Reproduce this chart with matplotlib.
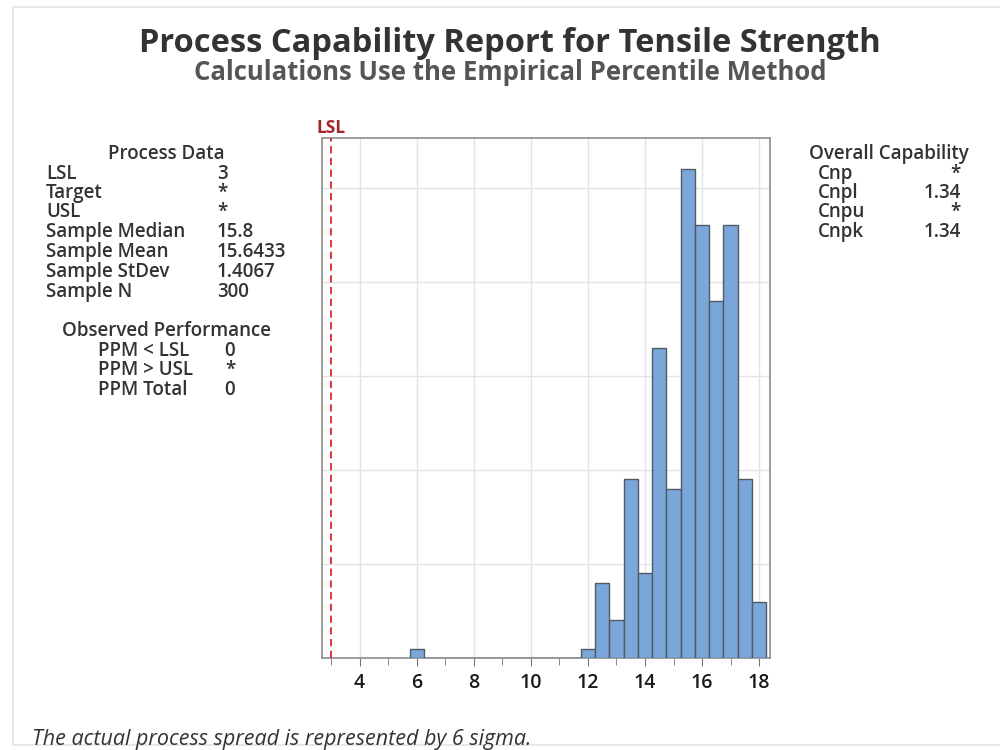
import numpy as np
import matplotlib
matplotlib.use("Agg")
import matplotlib.pyplot as plt
from matplotlib.patches import Rectangle

plt.rcParams['font.family'] = ['Open Sans', 'DejaVu Sans']

# ---------------- data ----------------
bin_centers = [6.0, 6.5, 7.0, 7.5, 8.0, 8.5, 9.0, 9.5, 10.0, 10.5, 11.0, 11.5,
               12.0, 12.5, 13.0, 13.5, 14.0, 14.5, 15.0, 15.5, 16.0, 16.5,
               17.0, 17.5, 18.0]
counts = [1, 0, 0, 0, 0, 0, 0, 0, 0, 0, 0, 0,
          1, 8, 4, 19, 9, 33, 18, 52, 46, 38, 46, 19, 6]
bin_width = 0.5
lsl = 3

process_labels = ['LSL', 'Target', 'USL', 'Sample Median', 'Sample Mean',
                  'Sample StDev', 'Sample N']
process_values = ['3', '*', '*', '15.8', '15.6433', '1.4067', '300']
perf_labels = ['PPM < LSL', 'PPM > USL', 'PPM Total']
perf_values = ['0', '*', '0']
cap_labels = ['Cnp', 'Cnpl', 'Cnpu', 'Cnpk']
cap_values = ['*', '1.34', '*', '1.34']

title = 'Process Capability Report for Tensile Strength'
subtitle = 'Calculations Use the Empirical Percentile Method'
footnote = 'The actual process spread is represented by 6 sigma.'

# ---------------- figure ----------------
W, H = 1000, 750
fig = plt.figure(figsize=(10, 7.5), dpi=100)
txt = '#333333'

def fx(px):
    return px / W

def fy(py):
    return 1 - py / H

# light frame round the report
fig.patches.append(Rectangle((fx(13), fy(745)), 1.2, fy(7) - fy(745),
                             transform=fig.transFigure, fill=False,
                             edgecolor='#e4e4e4', lw=1.2))

ax = fig.add_axes([fx(322), fy(658), fx(770) - fx(322), fy(138) - fy(658)])
ax.bar(bin_centers, counts, width=bin_width, color='#7ba6da',
       edgecolor='#505a64', linewidth=1.0, zorder=3)
ax.axvline(lsl, color='#d9262b', ls=(0, (4, 2.5)), lw=1.3, zorder=4)
ax.text(lsl, 1.002, 'LSL', transform=ax.get_xaxis_transform(), ha='center',
        va='bottom', color='#a3262a', fontsize=12.5, fontweight='bold')

ax.set_xlim(2.68, 18.38)
ax.set_ylim(0, 55.3)
ax.set_xticks(np.arange(4, 19, 2))
ax.set_xticks(np.arange(3, 18, 2), minor=True)
ax.set_yticks(np.arange(10, 51, 10))
ax.tick_params(axis='y', length=0, labelleft=False)
ax.tick_params(axis='x', which='major', length=6, color='#777777',
               labelsize=14, labelcolor='#1a1a1a', pad=5)
ax.tick_params(axis='x', which='minor', length=5, color='#777777')
for lab in ax.get_xticklabels():
    lab.set_fontweight('semibold')
ax.grid(True, color='#e3e3e3', lw=1, zorder=0)
for s in ax.spines.values():
    s.set_color('#8c8c8c')
    s.set_linewidth(1.2)

# titles
fig.text(fx(510), fy(43), title, ha='center', va='center', fontsize=23.5,
         fontweight='bold', color=txt)
fig.text(fx(510), fy(73), subtitle, ha='center', va='center', fontsize=18.5,
         fontweight='bold', color='#555555')

# process data block
fs = 13.5
fw = 'semibold'
fig.text(fx(166), fy(154), 'Process Data', ha='center', va='center',
         fontsize=fs, fontweight=fw, color=txt)
ys = [174, 193, 212, 232, 252, 272, 292]
for lab, val, y in zip(process_labels, process_values, ys):
    fig.text(fx(46), fy(y), lab, ha='left', va='center', fontsize=fs,
             fontweight=fw, color=txt)
    fig.text(fx(217), fy(y), val, ha='left', va='center', fontsize=fs,
             fontweight=fw, color=txt)

fig.text(fx(167), fy(331), 'Observed Performance', ha='center', va='center',
         fontsize=fs, fontweight=fw, color=txt)
for lab, val, y in zip(perf_labels, perf_values, [351, 370, 390]):
    fig.text(fx(98), fy(y), lab, ha='left', va='center', fontsize=fs,
             fontweight=fw, color=txt)
    fig.text(fx(230), fy(y), val, ha='center', va='center', fontsize=fs,
             fontweight=fw, color=txt)

# capability block
fig.text(fx(889), fy(154), 'Overall Capability', ha='center', va='center',
         fontsize=fs, fontweight=fw, color=txt)
for lab, val, y in zip(cap_labels, cap_values, [174, 193, 212, 232]):
    fig.text(fx(818), fy(y), lab, ha='left', va='center', fontsize=fs,
             fontweight=fw, color=txt)
    fig.text(fx(961), fy(y), val, ha='right', va='center', fontsize=fs,
             fontweight=fw, color=txt)

fig.text(fx(32), fy(739), footnote, ha='left', va='center', fontsize=15.5,
         style='italic', color=txt)

fig.savefig('out.png', dpi=100, facecolor='white')
